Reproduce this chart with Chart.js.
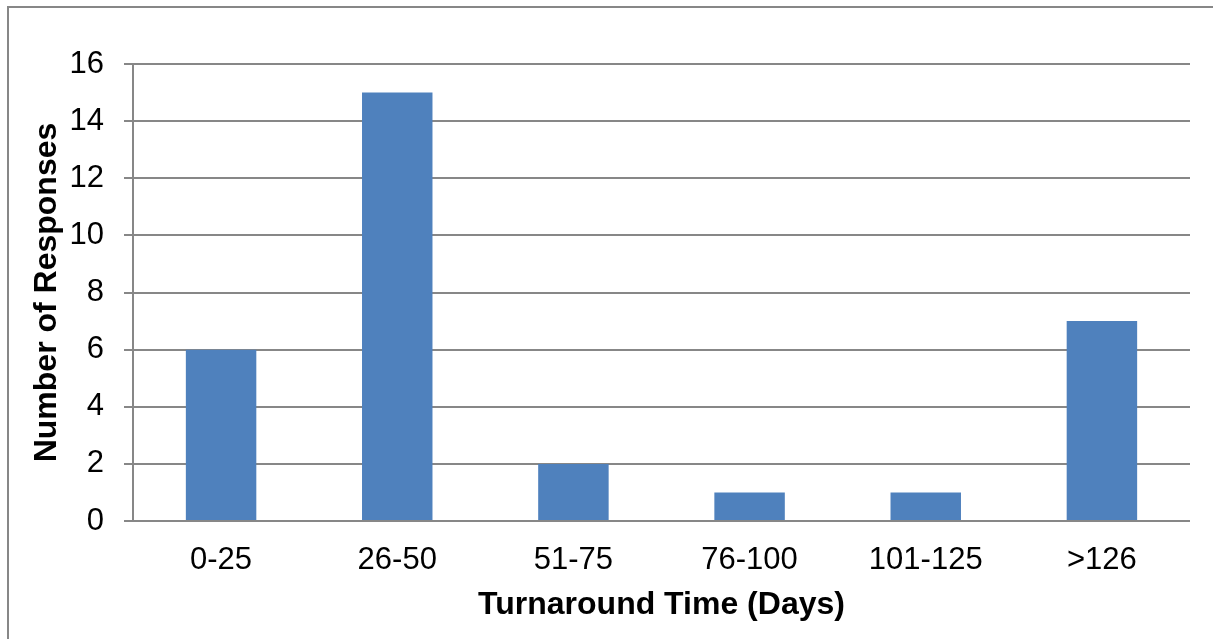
<!DOCTYPE html>
<html>
<head>
<meta charset="utf-8">
<script src="https://cdn.jsdelivr.net/npm/chart.js@4/dist/chart.umd.min.js"></script>
<style>
  html, body { margin: 0; padding: 0; background: #ffffff; overflow: hidden; }
  #wrap { position: relative; width: 1213px; height: 639px; }
</style>
</head>
<body>
<div id="wrap"><canvas id="chart" width="1213" height="639"></canvas></div>
<script>
// Survey results: turnaround time buckets and number of responses
const categories = ['0-25', '26-50', '51-75', '76-100', '101-125', '>126'];
const responses = [6, 15, 2, 1, 1, 7];
const yTicks = [0, 2, 4, 6, 8, 10, 12, 14, 16];

const axisGray = '#878787';
const barBlue = '#4F81BD';
const fontFamily = '"Liberation Sans", Arial, sans-serif';

// Outer frame of the chart object
const framePlugin = {
  id: 'frame',
  beforeDraw(chart) {
    const ctx = chart.ctx;
    ctx.save();
    ctx.strokeStyle = axisGray;
    ctx.lineWidth = 2;
    ctx.strokeRect(8, 7, chart.width + 20, chart.height + 20);
    ctx.restore();
  }
};

new Chart(document.getElementById('chart'), {
  type: 'bar',
  data: {
    labels: categories,
    datasets: [{
      data: responses,
      backgroundColor: barBlue,
      borderWidth: 0,
      barPercentage: 0.4,
      categoryPercentage: 1.0
    }]
  },
  options: {
    responsive: false,
    animation: false,
    devicePixelRatio: 1,
    layout: { padding: { left: 20, top: 64, right: 23, bottom: 0 } },
    plugins: {
      legend: { display: false },
      tooltip: { enabled: false }
    },
    scales: {
      x: {
        grid: { display: false, drawTicks: false },
        border: { display: false },
        ticks: {
          color: '#000000',
          padding: 21,
          maxRotation: 0,
          font: { family: fontFamily, size: 31 }
        },
        title: {
          display: true,
          text: 'Turnaround Time (Days)',
          color: '#000000',
          font: { family: fontFamily, size: 32, weight: 'bold' },
          padding: { top: 0, bottom: 15 }
        },
        afterFit(scale) { scale.height = 118; }
      },
      y: {
        min: 0,
        max: 16,
        afterBuildTicks(scale) { scale.ticks = yTicks.map(v => ({ value: v })); },
        grid: {
          color: axisGray,
          lineWidth: 2,
          drawTicks: true,
          tickLength: 9
        },
        border: { display: true, color: axisGray, width: 2 },
        ticks: {
          color: '#000000',
          padding: 20,
          font: { family: fontFamily, size: 31 }
        },
        title: {
          display: true,
          text: 'Number of Responses',
          color: '#000000',
          font: { family: fontFamily, size: 32, weight: 'bold' },
          padding: { top: 8, bottom: 0 }
        },
        afterFit(scale) { scale.width = 113; }
      }
    }
  },
  plugins: [framePlugin]
});
</script>
</body>
</html>
